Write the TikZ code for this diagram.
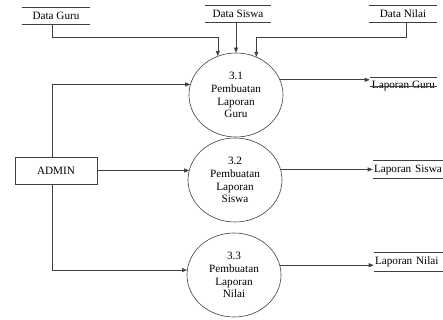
\documentclass[tikz,border=0pt]{standalone}
\usepackage{fontspec}
\setmainfont{Liberation Serif}
\usetikzlibrary{shapes.geometric,arrows.meta}
\begin{document}
\begin{tikzpicture}[x=1pt,y=-1pt,
  font=\rmfamily\fontsize{11.2}{12.7}\selectfont,
  line width=0.6pt,
  lc/.style={draw=black!75},
  proc/.style={ellipse,draw=black!75,minimum width=94pt,minimum height=84pt,inner sep=0pt,align=center},
  store/.style={rectangle,inner sep=0pt,minimum height=16pt},
  ent/.style={rectangle,draw=black!75,fill=white,minimum width=82pt,minimum height=27pt,inner sep=0pt},
  arr/.style={lc,-{Triangle[length=5pt,width=4pt]}}]
\useasboundingbox (0,0) rectangle (443,320);
% processes
\node[proc] (p1) at (236,95) {3.1\\Pembuatan\\Laporan\\Guru};
\node[proc] (p2) at (235,180) {3.2\\Pembuatan\\Laporan\\Siswa};
\node[proc] (p3) at (234,275) {3.3\\Pembuatan\\Laporan\\Nilai};
% data stores
\node[store,minimum width=68pt] (dg) at (56,16) {Data Guru};
\node[store,minimum width=66pt] (ds) at (238,14) {Data Siswa};
\node[store,minimum width=68pt] (dn) at (403,14) {Data Nilai};
\node[store,minimum width=67pt] (lg) at (403.5,86) {Laporan Guru};
\node[store,minimum width=70pt,minimum height=17pt,text width=68pt,align=left] (ls) at (408,169.5) {Laporan Siswa};
\node[store,minimum width=69pt,minimum height=18pt,text width=67pt,align=left] (ln) at (408.5,262) {Laporan Nilai};
\foreach \s in {dg,ds,dn,ls,ln}{
  \draw[lc] (\s.north west) -- (\s.north east);
  \draw[lc] (\s.south west) -- (\s.south east);
}
\draw[lc] (lg.north west) -- (lg.north east);
\draw[lc] (lg.west) -- (lg.east);
% entity
\node[ent] (adm) at (56,170.5) {ADMIN};
\coordinate (av) at (52,0);
\coordinate (cg) at (52,37);
\coordinate (cn) at (406,37);
\draw[arr] (adm.north -| av) |- (p1.167);
\draw[arr] (adm.south -| av) |- (p3.174);
\draw[arr] (adm.east) -- (adm.east -| p2.167);
% inputs
\draw[arr] (cg |- dg.south) -- (cg) -| (p1.115);
\draw[arr] (p1.north |- ds.south) -- (p1.north);
\draw[arr] (cn |- dn.south) -- (cn) -| (p1.62);
% outputs
\draw[arr] (p1.19) -- (p1.19 -| lg.west);
\draw[arr] (p2.13) -- (p2.13 -| ls.west);
\draw[arr] (p3.12) -- (p3.12 -| ln.west);
\end{tikzpicture}
\end{document}
